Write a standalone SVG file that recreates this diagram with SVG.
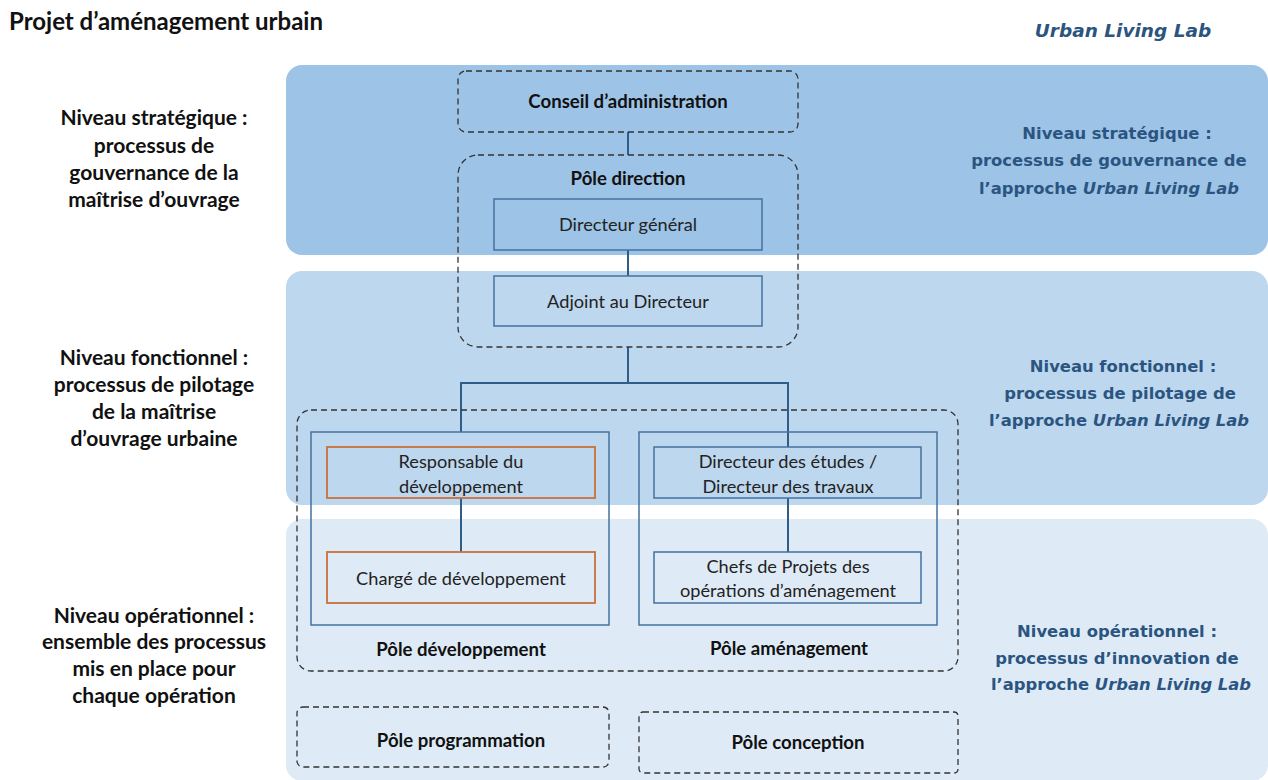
<svg xmlns="http://www.w3.org/2000/svg" width="1268" height="780" viewBox="0 0 1268 780">
<style>
.lt{font-family:Lato,"Open Sans",sans-serif;font-weight:bold;font-size:21px;fill:#111;text-anchor:middle}
.rt{font-family:"DejaVu Sans",Verdana,sans-serif;font-weight:bold;font-size:16.4px;fill:#2b5580;text-anchor:middle}
.bx{font-family:Lato,"Open Sans",sans-serif;font-size:18.2px;fill:#222;text-anchor:middle}
.bb{font-family:Lato,"Open Sans",sans-serif;font-weight:bold;font-size:18.6px;fill:#111;text-anchor:middle}
.dash{fill:none;stroke:#333;stroke-width:1.3;stroke-dasharray:6 4}
.blue{fill:none;stroke:#4472a0;stroke-width:1.5}
.orange{fill:none;stroke:#c9703a;stroke-width:1.8}
.con{fill:none;stroke:#2e5d88;stroke-width:2}
</style>
<rect width="1268" height="780" fill="#fff"/>
<g id="bands">
<rect x="286" y="65" width="982" height="190" rx="16" fill="#9dc3e6"/>
<rect x="286" y="271" width="982" height="234" rx="16" fill="#bdd7ee"/>
<rect x="286" y="519" width="982" height="262" rx="16" fill="#deebf7"/>
</g>
<g id="titles">
<text x="9" y="30" font-family="Lato,'Open Sans',sans-serif" font-weight="bold" font-size="24px" fill="#111">Projet d’aménagement urbain</text>
<text x="1123" y="37" font-family="'DejaVu Sans',Verdana,sans-serif" font-weight="bold" font-style="italic" font-size="18.5px" fill="#2b5580" text-anchor="middle">Urban Living Lab</text>
</g>
<g id="left-labels">
<text class="lt" x="154" y="125">Niveau stratégique :</text>
<text class="lt" x="154" y="153">processus de</text>
<text class="lt" x="154" y="180">gouvernance de la</text>
<text class="lt" x="154" y="207">maîtrise d’ouvrage</text>
<text class="lt" x="154" y="365">Niveau fonctionnel :</text>
<text class="lt" x="154" y="392">processus de pilotage</text>
<text class="lt" x="154" y="419">de la maîtrise</text>
<text class="lt" x="154" y="446">d’ouvrage urbaine</text>
<text class="lt" x="154" y="623">Niveau opérationnel :</text>
<text class="lt" x="154" y="649">ensemble des processus</text>
<text class="lt" x="154" y="676">mis en place pour</text>
<text class="lt" x="154" y="703">chaque opération</text>
</g>
<g id="right-labels">
<text class="rt" x="1117" y="139">Niveau stratégique :</text>
<text class="rt" x="1109" y="166">processus de gouvernance de</text>
<text class="rt" x="1109" y="194">l’approche <tspan font-style="italic">Urban Living Lab</tspan></text>
<text class="rt" x="1123" y="372">Niveau fonctionnel :</text>
<text class="rt" x="1120" y="399">processus de pilotage  de</text>
<text class="rt" x="1119" y="426">l’approche <tspan font-style="italic">Urban Living Lab</tspan></text>
<text class="rt" x="1117" y="637">Niveau opérationnel :</text>
<text class="rt" x="1117" y="664">processus d’innovation de</text>
<text class="rt" x="1121" y="690">l’approche <tspan font-style="italic">Urban Living Lab</tspan></text>
</g>
<g id="connectors">
<line class="con" x1="628" y1="132" x2="628" y2="155"/>
<line class="con" x1="628" y1="250" x2="628" y2="276"/>
<path class="con" d="M628 347V383M461 432V383H788V447"/>
<line class="con" x1="461" y1="498" x2="461" y2="552"/>
<line class="con" x1="788" y1="498" x2="788" y2="552"/>
</g>
<g id="conseil">
<rect class="dash" x="458" y="71" width="340" height="61" rx="8"/>
<text class="bb" x="628" y="108">Conseil d’administration</text>
</g>
<g id="pole-direction">
<rect class="dash" x="458" y="155" width="340" height="192" rx="20"/>
<text class="bb" x="628" y="185">Pôle direction</text>
</g>
<g id="directeur-general">
<rect class="blue" x="494" y="199" width="268" height="51"/>
<text class="bx" x="628" y="231">Directeur général</text>
</g>
<g id="adjoint">
<rect class="blue" x="494" y="276" width="268" height="50"/>
<text class="bx" x="628" y="308">Adjoint au Directeur</text>
</g>
<g id="operations">
<rect class="dash" x="297" y="410" width="661" height="261" rx="14"/>
</g>
<g id="pole-developpement">
<rect class="blue" x="311" y="432" width="298" height="193"/>
<text class="bb" x="461" y="656">Pôle développement</text>
</g>
<g id="responsable">
<rect class="orange" x="327" y="447" width="268" height="51"/>
<text class="bx" x="461" y="468">Responsable du</text>
<text class="bx" x="461" y="493">développement</text>
</g>
<g id="charge">
<rect class="orange" x="327" y="552" width="268" height="51"/>
<text class="bx" x="461" y="585">Chargé de développement</text>
</g>
<g id="pole-amenagement">
<rect class="blue" x="639" y="432" width="298" height="193"/>
<text class="bb" x="789" y="655">Pôle aménagement</text>
</g>
<g id="directeur-etudes">
<rect class="blue" x="654" y="447" width="267" height="51"/>
<text class="bx" x="788" y="468">Directeur des études /</text>
<text class="bx" x="788" y="493">Directeur des travaux</text>
</g>
<g id="chefs">
<rect class="blue" x="654" y="552" width="267" height="51"/>
<text class="bx" x="788" y="573">Chefs de Projets des</text>
<text class="bx" x="788" y="597">opérations d’aménagement</text>
</g>
<g id="pole-programmation">
<rect class="dash" x="297" y="707" width="312" height="60" rx="6"/>
<text class="bb" x="461" y="747">Pôle programmation</text>
</g>
<g id="pole-conception">
<rect class="dash" x="639" y="712" width="319" height="61" rx="4"/>
<text class="bb" x="798" y="749">Pôle conception</text>
</g>
</svg>
